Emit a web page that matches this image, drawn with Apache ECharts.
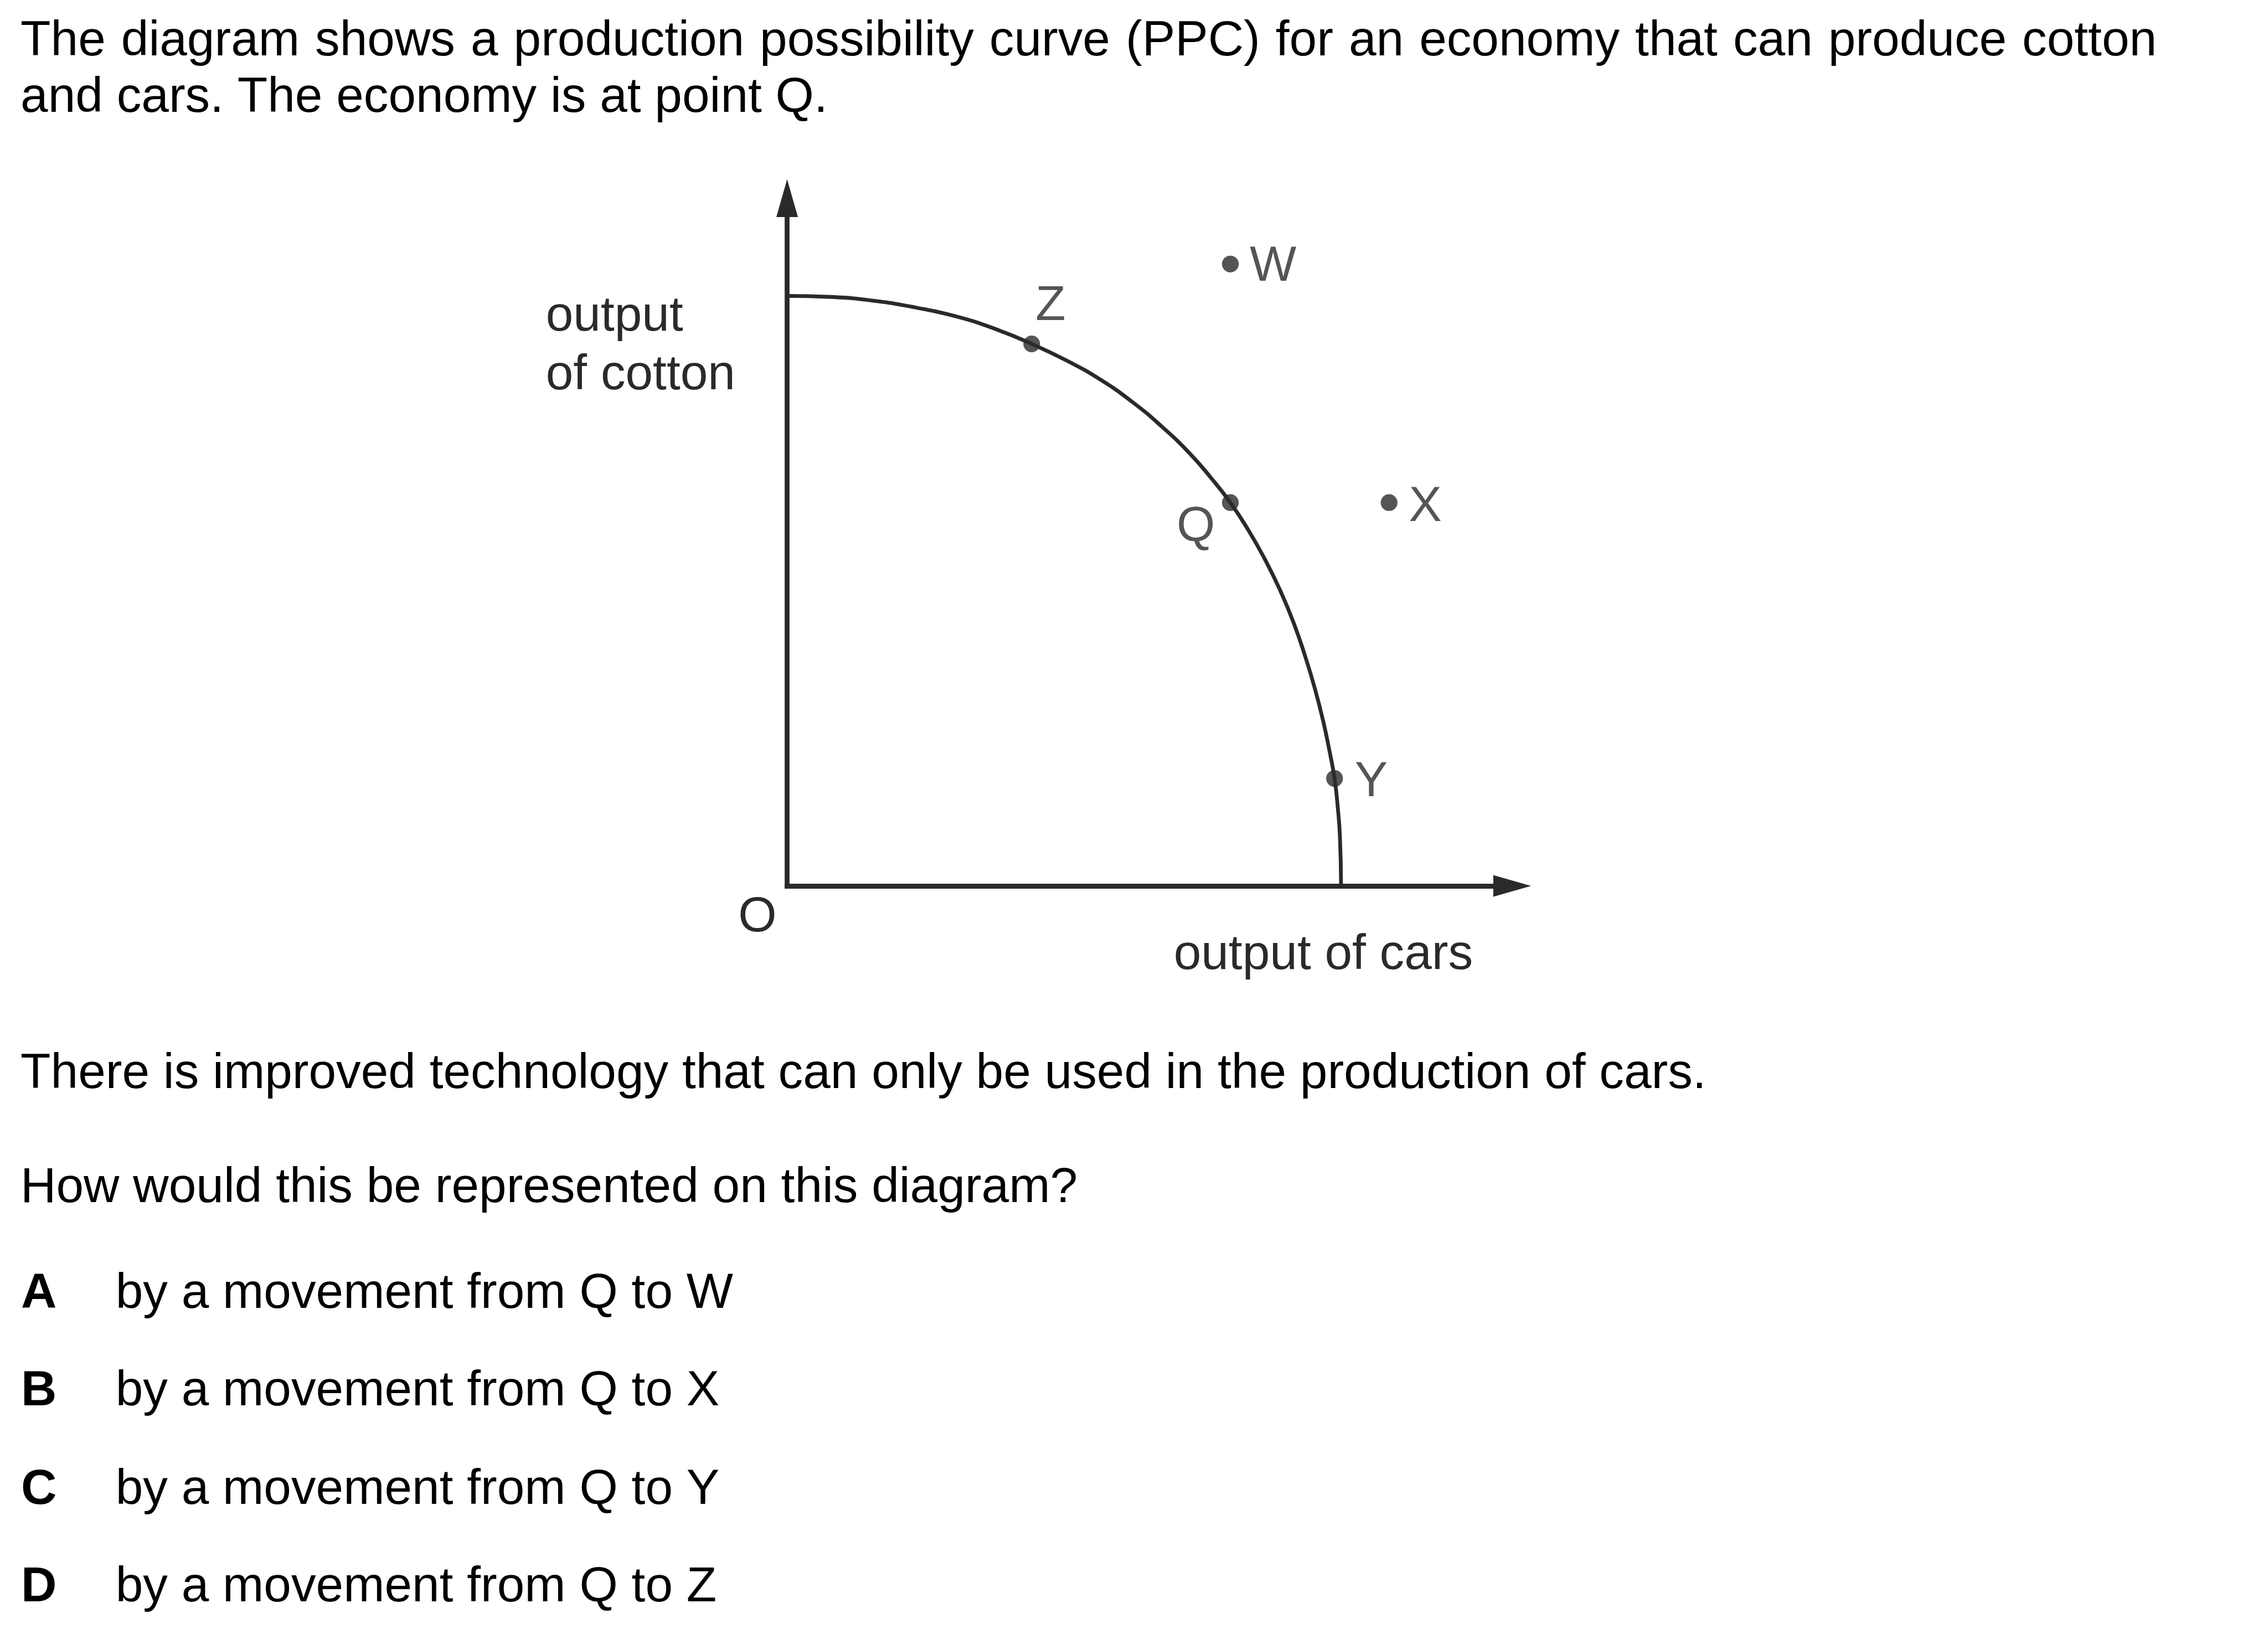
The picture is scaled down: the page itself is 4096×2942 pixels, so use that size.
<!DOCTYPE html>
<html>
<head>
<meta charset="utf-8">
<script src="https://cdn.jsdelivr.net/npm/echarts@6/dist/echarts.min.js"></script>
<style>
html,body{margin:0;padding:0;background:#ffffff;}
#chart{width:4096px;height:2942px;}
</style>
</head>
<body>
<div id="chart"></div>
<script>
// ---------- DATA ----------
// PPC curve: output of cars (x) vs output of cotton (y), arbitrary units
const curveX = [0, 8, 16, 24, 32, 39, 45.3, 52, 58, 64, 69.5, 74.5, 78.5, 82.1, 85.5, 88.5, 91.3, 93.8, 96, 97.8, 99.3, 100.5, 101.4, 102, 102.4, 102.6];
const curveY = [109.3, 109.1, 108.4, 107.1, 105.3, 103.0, 100.4, 97.2, 93.8, 89.6, 85.0, 80.2, 75.6, 71.0, 65.8, 60.5, 54.8, 48.8, 42.4, 36.4, 30.5, 24.8, 19.9, 14.5, 9.0, 0];
// labelled points
const pointNames = ['Z', 'Q', 'Y', 'W', 'X'];
const pointX = [45.3, 82.1, 101.4, 82.1, 111.5];
const pointY = [100.4, 71.0, 19.9, 115.2, 71.0];
// axis extents (end of each arrowed axis)
const axisMaxX = 134.3;
const axisMaxY = 127.4;
// texts
const xAxisTitle = 'output of cars';
const yAxisTitle = ['output', 'of cotton'];
const originLabel = 'O';
const introLines = [
  'The diagram shows a production possibility curve (PPC) for an economy that can produce cotton',
  'and cars. The economy is at point Q.'
];
const questionLines = [
  'There is improved technology that can only be used in the production of cars.',
  'How would this be represented on this diagram?'
];
const optionKeys = ['A', 'B', 'C', 'D'];
const optionTexts = [
  'by a movement from Q to W',
  'by a movement from Q to X',
  'by a movement from Q to Y',
  'by a movement from Q to Z'
];

// ---------- LAYOUT / STYLE ----------
const S = 0.975;                 // global scale vs reference
const FS = 91.5 * S;             // font size
const FAMILY = '"Liberation Sans", Arial, Helvetica, sans-serif';
const INK = '#000000';
const CHART_INK = '#2a2a2a';
const MID = 0.26;                // rendered 'middle' position above alphabetic baseline (em)
const CENTER_SHIFT = 7;          // cap-centre correction for centred labels (output px)

// reference-pixel layout
const L = {
  originX: 1458, originY: 1641, axisEndX: 2801, axisEndY: 367,
  introX: 38, introRight: 3995, introBase: [101.4, 205.5],
  questionX: 38, questionBase: [2014, 2225],
  optKeyX: 39, optTextX: 214, optBase: [2421, 2602, 2784, 2965],
  yTitleX: 1011, yTitleBase: [611, 720],
  xTitleX: 2174, xTitleBase: 1793,
  originLabelCX: 1403, originLabelCY: 1693
};
const labelOffsets = { Z: [35, -76.5], Q: [-64, 39], Y: [68, 0], W: [79, -1.5], X: [67, 1.5] };

function font(weight) { return weight + ' ' + FS + 'px ' + FAMILY; }
function textOut(str, xOut, yMidOut, opts) {
  opts = opts || {};
  return {
    type: 'text',
    x: xOut,
    y: yMidOut,
    silent: true,
    style: {
      text: str,
      font: font(opts.weight || 'normal'),
      fill: opts.fill || INK,
      align: opts.align || 'left',
      verticalAlign: 'middle'
    }
  };
}
function textEl(str, xRef, baseRef, opts) {
  return textOut(str, xRef * S, baseRef * S - MID * FS, opts);
}

const graphics = [];

// first line is justified in the reference: spread its words to the measured right edge
(function () {
  const ctx = document.createElement('canvas').getContext('2d');
  ctx.font = font('normal');
  const words = introLines[0].split(' ');
  const widths = words.map(w => ctx.measureText(w).width);
  const spaceW = ctx.measureText(' ').width;
  const natural = widths.reduce((a, b) => a + b, 0) + spaceW * (words.length - 1);
  const target = (L.introRight - L.introX) * S;
  const extra = Math.max(0, (target - natural) / (words.length - 1));
  let x = L.introX * S;
  const yMid = L.introBase[0] * S - MID * FS;
  words.forEach((w, i) => {
    graphics.push(textOut(w, x, yMid));
    x += widths[i] + spaceW + extra;
  });
})();
graphics.push(textEl(introLines[1], L.introX, L.introBase[1]));
questionLines.forEach((t, i) => graphics.push(textEl(t, L.questionX, L.questionBase[i])));
optionKeys.forEach((k, i) => {
  graphics.push(textEl(k, L.optKeyX, L.optBase[i], { weight: 'bold' }));
  graphics.push(textEl(optionTexts[i], L.optTextX, L.optBase[i]));
});
yAxisTitle.forEach((t, i) => graphics.push(textEl(t, L.yTitleX, L.yTitleBase[i], { fill: CHART_INK })));
graphics.push(textEl(xAxisTitle, L.xTitleX, L.xTitleBase, { fill: CHART_INK }));
graphics.push(textOut(originLabel, L.originLabelCX * S, L.originLabelCY * S + CENTER_SHIFT, { fill: CHART_INK, align: 'center' }));

const axisLineCommon = {
  show: true,
  onZero: false,
  symbol: ['none', 'triangle'],
  symbolSize: [40 * S, 70 * S],
  lineStyle: { color: CHART_INK, width: 9 * S, cap: 'square' }
};

const option = {
  backgroundColor: '#ffffff',
  animation: false,
  grid: {
    left: L.originX * S,
    top: L.axisEndY * S,
    width: (L.axisEndX - L.originX) * S,
    height: (L.originY - L.axisEndY) * S,
    containLabel: false,
    outerBoundsMode: 'none'
  },
  xAxis: {
    type: 'value', min: 0, max: axisMaxX,
    axisLine: axisLineCommon,
    axisTick: { show: false }, axisLabel: { show: false }, splitLine: { show: false }
  },
  yAxis: {
    type: 'value', min: 0, max: axisMaxY,
    axisLine: axisLineCommon,
    axisTick: { show: false }, axisLabel: { show: false }, splitLine: { show: false }
  },
  series: [
    {
      name: 'PPC',
      type: 'line',
      data: curveX.map((x, i) => [x, curveY[i]]),
      smooth: 0.5,
      showSymbol: false,
      symbol: 'none',
      lineStyle: { color: CHART_INK, width: 7 * S },
      z: 3,
      silent: true
    },
    {
      name: 'points',
      type: 'scatter',
      symbol: 'circle',
      symbolSize: 31 * S,
      itemStyle: { color: CHART_INK },
      z: 4,
      silent: true,
      label: {
        show: true,
        position: 'inside',
        formatter: '{b}',
        color: CHART_INK,
        fontSize: FS,
        fontFamily: FAMILY,
        align: 'center',
        verticalAlign: 'middle'
      },
      data: pointNames.map((n, i) => ({
        name: n,
        value: [pointX[i], pointY[i]],
        label: { offset: [labelOffsets[n][0] * S, labelOffsets[n][1] * S + CENTER_SHIFT] }
      }))
    }
  ],
  graphic: graphics
};

const chart = echarts.init(document.getElementById('chart'), null, { renderer: 'canvas' });
chart.setOption(option);
</script>
</body>
</html>
